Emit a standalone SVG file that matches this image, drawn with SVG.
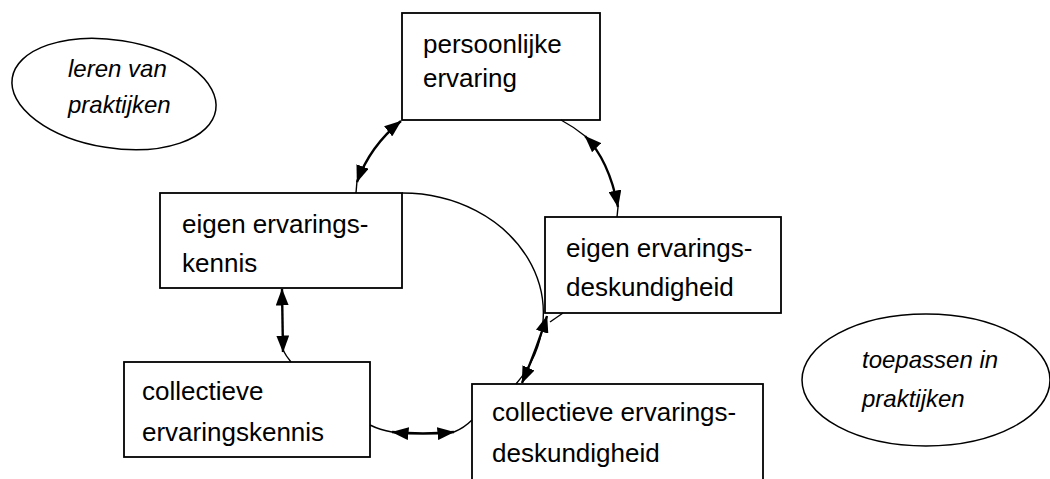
<svg xmlns="http://www.w3.org/2000/svg" width="1050" height="479" viewBox="0 0 1050 479">
  <style>
    .box { fill: #ffffff; stroke: #000000; stroke-width: 1.8; }
    .oval { fill: #ffffff; stroke: #000000; stroke-width: 1.5; }
    .lbl { font-family: "Liberation Sans", Arial, sans-serif; font-size: 26px; fill: #000000; }
    .ital { font-family: "Liberation Sans", Arial, sans-serif; font-size: 24px; font-style: italic; fill: #000000; }
    .thin { fill: none; stroke: #000000; stroke-width: 1.4; }
    .thick { fill: none; stroke: #000000; stroke-width: 2.4; marker-start: url(#ah); marker-end: url(#ah); }
  </style>
  <defs>
    <marker id="ah" viewBox="0 0 17 13" refX="16.5" refY="6.5" markerWidth="17" markerHeight="13" markerUnits="userSpaceOnUse" orient="auto-start-reverse">
      <path d="M0,0 L17,6.5 L0,13 z" fill="#000000"/>
    </marker>
  </defs>

  <g id="oval-leren">
    <ellipse class="oval" cx="114" cy="94" rx="103" ry="54" transform="rotate(9 114 94)"/>
    <text class="ital" x="68" y="77">leren van</text>
    <text class="ital" x="68" y="113">praktijken</text>
  </g>

  <g id="oval-toepassen">
    <ellipse class="oval" cx="926" cy="380" rx="124" ry="66"/>
    <text class="ital" x="862" y="368">toepassen in</text>
    <text class="ital" x="862" y="407">praktijken</text>
  </g>

  <g id="node-persoonlijke">
    <rect class="box" x="402" y="13" width="198" height="107"/>
    <text class="lbl" x="423" y="53">persoonlijke</text>
    <text class="lbl" x="423" y="87">ervaring</text>
  </g>

  <g id="node-eigen-kennis">
    <rect class="box" x="160" y="193" width="242" height="95"/>
    <text class="lbl" x="182" y="233">eigen ervarings-</text>
    <text class="lbl" x="182" y="272">kennis</text>
  </g>

  <g id="node-eigen-deskundigheid">
    <rect class="box" x="545" y="217" width="236" height="96"/>
    <text class="lbl" x="566" y="257">eigen ervarings-</text>
    <text class="lbl" x="566" y="296">deskundigheid</text>
  </g>

  <g id="node-collectieve-kennis">
    <rect class="box" x="124" y="362" width="246" height="95"/>
    <text class="lbl" x="142" y="400">collectieve</text>
    <text class="lbl" x="142" y="441">ervaringskennis</text>
  </g>

  <g id="node-collectieve-deskundigheid">
    <rect class="box" x="472" y="384" width="291" height="98"/>
    <text class="lbl" x="492" y="421">collectieve ervarings-</text>
    <text class="lbl" x="492" y="462">deskundigheid</text>
  </g>

  <g id="connectors">
    <path class="thin" d="M402,193 A141,120 0 0 1 516,384"/>

    <path class="thin" d="M356,193 L357,181"/>
    <path class="thick" d="M357,182 Q370,146 401,121"/>

    <path class="thin" d="M561,120 Q574,127 585,136"/>
    <path class="thick" d="M585,136 Q609,160 618,207"/>
    <path class="thin" d="M618,207 L617,217"/>

    <path class="thin" d="M563,313 L550,322"/>
    <path class="thick" d="M547,316 Q537,348 522,383"/>

    <path class="thin" d="M370,425 Q380,430 392,432"/>
    <path class="thick" d="M392,432 Q423,435 454,432"/>
    <path class="thin" d="M454,432 Q464,428 472,420"/>

    <path class="thick" d="M282,289 L283,352"/>
    <path class="thin" d="M283,350 Q286,356 291,362"/>
  </g>
</svg>
